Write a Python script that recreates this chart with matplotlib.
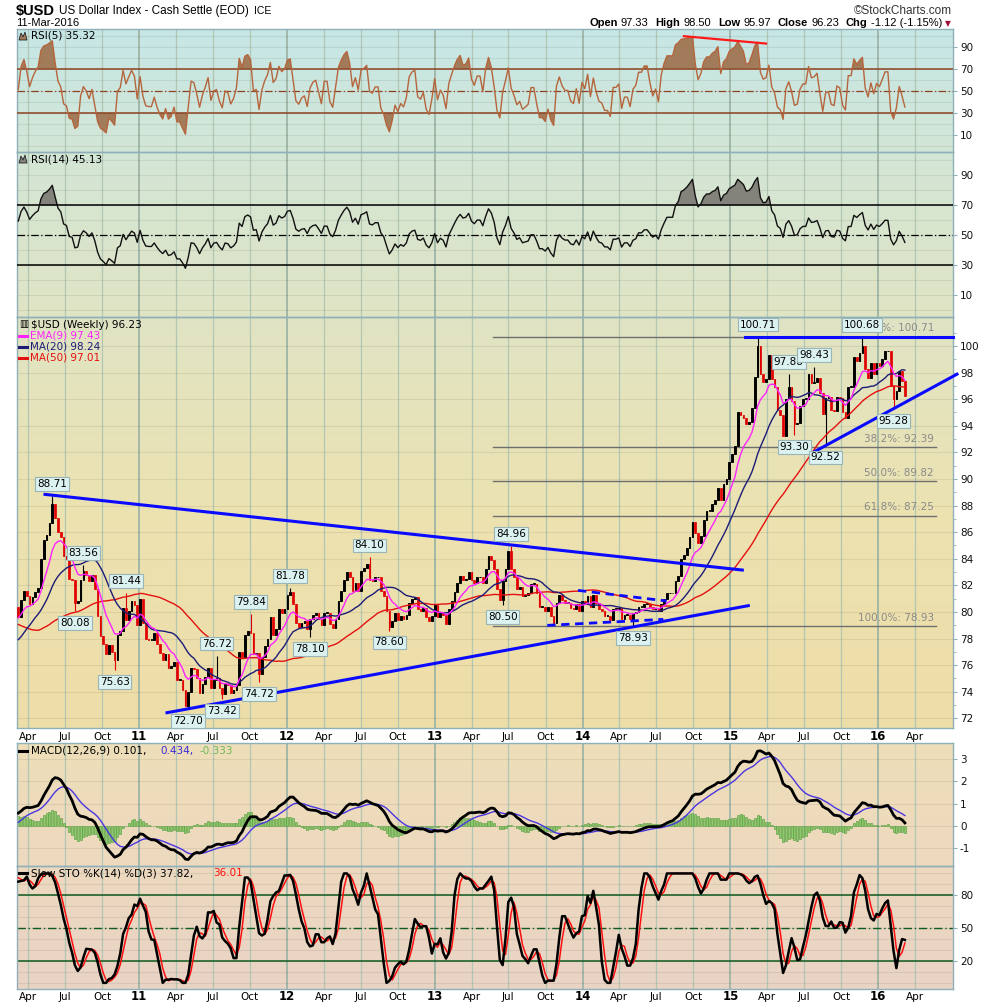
import numpy as np
import pandas as pd
import matplotlib
matplotlib.use("Agg")
import matplotlib.pyplot as plt
import matplotlib.dates as mdates
from matplotlib.patches import Polygon

plt.rcParams['font.family'] = ['DejaVu Sans']
plt.rcParams['axes.unicode_minus'] = False

# weekly closes (week ending Friday); the 2009 block is only warm-up for the averages
warmup_start = "2009-03-20"
warmup_closes = [83.7, 85.0, 85.6, 86.0, 85.4, 84.4, 84.3, 82.5, 82.6, 80.0,
                 79.3, 80.5, 80.2, 80.0, 80.0, 80.4, 80.4, 79.3, 78.9, 78.4,
                 78.8, 78.6, 78.2, 78.3, 77.8, 76.8, 76.4, 77.1, 77.0, 76.3,
                 75.6, 75.4, 76.4, 75.8, 75.2, 75.4, 75.1, 75.7, 76.8, 77.9,
                 77.9, 77.9, 77.0, 77.5, 78.6, 79.5, 80.5, 80.3, 80.4, 80.4,
                 80.4]
closes_2010 = [79.6, 80.9, 81.6, 81.2, 80.6, 81.1, 81.5, 81.8, 84.0, 85.4,
               85.8, 86.7, 88.1, 87.1, 86.0, 85.6, 84.2, 84.0, 82.5, 82.4,
               80.7, 80.8, 82.4, 83.1, 82.8, 82.3, 82.8, 81.7, 79.7, 78.2,
               77.6, 76.8, 77.5, 77.0, 76.4, 78.3, 78.6, 80.3, 79.4, 80.1,
               80.8, 80.5, 79.0]
closes_2011 = [81.0, 79.2, 78.0, 77.9, 77.9, 78.4, 77.6, 76.9, 76.4, 76.8,
               75.8, 75.9, 76.2, 74.9, 74.9, 74.1, 72.9, 74.0, 75.8, 75.7,
               75.0, 73.9, 74.6, 75.1, 75.8, 74.3, 74.9, 75.0, 74.3, 73.8,
               74.6, 74.5, 73.9, 74.1, 74.5, 77.0, 76.6, 78.3, 78.6, 78.4,
               76.8, 76.9, 75.3, 76.6, 77.4, 78.0, 79.6, 78.3, 78.7, 80.2,
               79.9, 80.2]
closes_2012 = [81.3, 81.5, 80.6, 79.2, 78.9, 79.2, 79.3, 78.7, 79.5, 79.8,
               79.9, 79.5, 79.0, 79.9, 79.9, 79.1, 78.8, 79.5, 80.8, 81.6,
               82.4, 83.0, 82.6, 81.6, 82.2, 81.6, 83.1, 83.3, 83.6, 82.4,
               82.3, 82.6, 82.6, 81.6, 81.2, 80.1, 78.9, 79.3, 79.9, 79.4,
               79.7, 79.5, 79.8, 80.7, 81.0, 81.1, 80.2, 80.1, 80.3, 79.6,
               79.3, 79.7]
closes_2013 = [80.5, 79.6, 80.0, 79.8, 79.1, 80.2, 80.8, 81.5, 82.2, 82.7,
               82.4, 82.5, 83.0, 82.4, 82.2, 82.6, 82.6, 82.2, 83.2, 84.2,
               83.9, 83.2, 81.7, 80.9, 82.3, 83.2, 84.6, 83.2, 82.6, 81.7,
               81.9, 81.2, 81.3, 81.4, 82.1, 82.1, 81.4, 80.4, 80.4, 80.1,
               80.4, 79.7, 79.2, 80.7, 81.3, 80.9, 80.7, 80.7, 80.3, 80.2,
               80.6, 80.1]
closes_2014 = [80.8, 80.6, 81.2, 80.4, 81.3, 80.7, 80.2, 80.1, 79.7, 79.7,
               79.4, 80.2, 80.2, 80.3, 79.5, 79.8, 79.8, 79.5, 79.9, 80.0,
               80.4, 80.4, 80.6, 80.6, 80.4, 80.2, 80.3, 80.1, 80.6, 81.0,
               81.4, 81.4, 81.4, 82.3, 82.7, 84.0, 84.3, 84.8, 85.6, 86.8,
               85.9, 85.2, 85.7, 86.9, 87.6, 87.6, 88.1, 88.4, 89.3, 88.4,
               89.6, 90.0]
closes_2015 = [91.3, 91.9, 92.5, 95.0, 94.8, 94.6, 94.1, 94.3, 95.3, 97.7,
               100.0, 97.9, 97.3, 97.5, 99.3, 97.5, 96.9, 95.2, 94.8, 93.2,
               96.0, 96.9, 95.9, 94.1, 94.2, 95.5, 96.0, 96.0, 97.9, 97.2,
               97.3, 97.6, 96.5, 94.9, 96.1, 96.2, 95.2, 95.1, 96.2, 96.1,
               95.0, 94.6, 96.9, 96.9, 99.2, 98.9, 99.5, 100.0, 98.3, 97.6,
               98.7, 97.9]
closes_2016 = [98.7, 98.5, 99.0, 99.6, 99.6, 97.0, 96.0, 96.6, 98.1, 97.33, 96.23]

# labelled swing highs / lows
pivot_dates = ["2010-06-04", "2010-07-30", "2010-08-20", "2010-11-05", "2010-12-03",
               "2011-05-06", "2011-07-15", "2011-07-29", "2011-10-07", "2011-10-28",
               "2012-01-13", "2012-03-02", "2012-07-27", "2012-09-14",
               "2013-06-21", "2013-07-12", "2014-05-09",
               "2015-03-13", "2015-05-29", "2015-06-12", "2015-07-31", "2015-08-28",
               "2015-11-27", "2016-02-12"]
pivot_values = [88.71, 80.08, 83.56, 75.63, 81.44, 72.70, 76.72, 73.42, 79.84, 74.72,
                81.78, 78.10, 84.10, 78.60, 80.50, 84.96, 78.93,
                100.71, 97.88, 93.30, 98.43, 92.52, 100.68, 95.28]
pivot_kinds = ["H", "L", "H", "L", "H", "L", "H", "L", "H", "L",
               "H", "L", "H", "L", "L", "H", "L",
               "H", "H", "L", "H", "L", "H", "L"]

fib_levels = [100.71, 92.39, 89.82, 87.25, 78.93]
fib_names = ["0.0%", "38.2%", "50.0%", "61.8%", "100.0%"]


def weekly(start, values):
    return pd.Series(values, index=pd.date_range(start, periods=len(values), freq="W-FRI"))


close = pd.concat([weekly(warmup_start, warmup_closes), weekly("2010-03-12", closes_2010),
                   weekly("2011-01-07", closes_2011), weekly("2012-01-06", closes_2012),
                   weekly("2013-01-04", closes_2013), weekly("2014-01-03", closes_2014),
                   weekly("2015-01-02", closes_2015), weekly("2016-01-01", closes_2016)])
openp = close.shift(1).fillna(close.iloc[0])
high = pd.concat([openp, close], axis=1).max(axis=1)
low = pd.concat([openp, close], axis=1).min(axis=1)
for d, v, k in zip(pivot_dates, pivot_values, pivot_kinds):
    t = pd.Timestamp(d)
    if k == "H":
        high[t] = max(high[t], v)
    else:
        low[t] = min(low[t], v)

# indicators
ema9 = close.ewm(span=9, adjust=False).mean()
ma20 = close.rolling(20).mean()
ma50 = close.rolling(50).mean()


def rsi(c, n):
    d = c.diff()
    up = d.clip(lower=0).ewm(alpha=1 / n, adjust=False).mean()
    dn = (-d.clip(upper=0)).ewm(alpha=1 / n, adjust=False).mean()
    return 100 - 100 / (1 + up / dn)


rsi5 = rsi(close, 5)
rsi14 = rsi(close, 14)
macd = close.ewm(span=12, adjust=False).mean() - close.ewm(span=26, adjust=False).mean()
signal = macd.ewm(span=9, adjust=False).mean()
hist = macd - signal
ll = low.rolling(14).min()
hh = high.rolling(14).max()
fast_k = 100 * (close - ll) / (hh - ll)
slow_k = fast_k.rolling(3).mean()
slow_d = slow_k.rolling(3).mean()

m = close.index >= pd.Timestamp("2010-03-12")
xs = mdates.date2num(close.index[m] - pd.Timedelta(days=4))  # bars drawn at week start


def xd(s):
    return mdates.date2num(pd.Timestamp(s) - pd.Timedelta(days=4))


# ---- figure / layout in pixels ----
W, H = 990, 1007
fig = plt.figure(figsize=(W / 100, H / 100), dpi=100)
X0, X1 = 17, 953

d0 = mdates.date2num(pd.Timestamp("2010-04-01"))
d1 = mdates.date2num(pd.Timestamp("2016-04-01"))
dpp = (d1 - d0) / (915 - 28)


def px2d(px):
    return d0 + (px - 28) * dpp


def d2px(d):
    return 28 + (d - d0) / dpp


xlim = (px2d(X0), px2d(X1))
qticks = pd.date_range("2010-04-01", "2016-04-01", freq="QS-JAN")

# background gradient
bg = fig.add_axes([X0 / W, 1 - 989 / H, (X1 - X0) / W, (989 - 29) / H], zorder=-10)
stops_y = [29, 152, 317, 520, 728, 743, 866, 989]
stops_c = [(198, 230, 230), (211, 230, 214), (224, 228, 196), (236, 226, 176),
           (238, 221, 168), (238, 222, 184), (237, 217, 191), (233, 211, 197)]
rows = np.arange(29, 989)
img = np.stack([np.interp(rows, stops_y, [c[i] for c in stops_c]) for i in range(3)], axis=-1) / 255
img[(rows >= 729) & (rows < 743)] = 1.0
bg.imshow(img[:, None, :], aspect="auto", extent=[0, 1, 0, 1], interpolation="nearest")
bg.axis("off")


def panel(top, bottom, ylim, yticks, grid_y):
    ax = fig.add_axes([X0 / W, 1 - bottom / H, (X1 - X0) / W, (bottom - top) / H])
    ax.set_facecolor("none")
    ax.set_xlim(xlim)
    ax.set_ylim(ylim)
    for t in qticks:
        yr = t.month == 1
        ax.axvline(mdates.date2num(t), color="#9fb5a6" if yr else "#b2c6b4",
                   lw=1.3 if yr else 0.9, zorder=0)
    for v in grid_y:
        ax.axhline(v, color="black", alpha=0.07, lw=0.8, zorder=0)
    ax.set_xticks([])
    ax.yaxis.tick_right()
    ax.set_yticks(yticks)
    ax.tick_params(axis="y", length=3, pad=2, labelsize=7.5, color="#8fb0b8", labelcolor="#111")
    for s in ax.spines.values():
        s.set_color("#8fb0b8")
        s.set_linewidth(1.0)
    return ax


# ---- RSI(5) ----
ax1 = panel(29, 152, (-5.5, 106), [90, 70, 50, 30, 10], np.arange(0, 101, 10))
r5 = rsi5[m].values
ax1.fill_between(xs, r5, 70, where=r5 > 70, interpolate=True, color="#a27b5b", lw=0, zorder=2)
ax1.fill_between(xs, r5, 30, where=r5 < 30, interpolate=True, color="#a27b5b", lw=0, zorder=2)
for v in (70, 30):
    ax1.axhline(v, color="#8e4220", lw=1.1, zorder=3)
ax1.axhline(50, color="#8e4220", lw=0.9, ls=(0, (6, 2, 1, 2)), zorder=3)
ax1.plot(xs, r5, color="#b5653c", lw=1.0, zorder=4)
ax1.plot([xd("2014-09-12"), xd("2015-04-03")], [99.5, 92.8], color="#ff1a1a", lw=1.6, zorder=5)

# ---- RSI(14) ----
ax2 = panel(152, 317, (-4.5, 105.5), [90, 70, 50, 30, 10], np.arange(0, 101, 10))
r14 = rsi14[m].values
ax2.fill_between(xs, r14, 70, where=r14 > 70, interpolate=True, color="#83837c", lw=0, zorder=2)
ax2.fill_between(xs, r14, 30, where=r14 < 30, interpolate=True, color="#83837c", lw=0, zorder=2)
for v in (70, 30):
    ax2.axhline(v, color="black", lw=1.1, zorder=3)
ax2.axhline(50, color="black", lw=0.9, ls=(0, (6, 2, 1, 2)), zorder=3)
ax2.plot(xs, r14, color="#111111", lw=1.0, zorder=4)

# ---- price ----
ax3 = panel(317, 728, (71.27, 102.18), np.arange(72, 101, 2), np.arange(72, 101, 2))
ax3.set_yticks(np.arange(72, 102, 1), minor=True)
ax3.tick_params(axis="y", which="minor", length=2, color="#8fb0b8")

for lv, nm in zip(fib_levels, fib_names):
    ax3.plot([px2d(493), px2d(935.7)], [lv, lv], color="#6f6f6f", lw=1.0, zorder=2)
    ax3.text(px2d(934), lv + 0.25, f"{nm}: {lv:.2f}", ha="right", va="bottom",
             fontsize=7.5, color="#8a8a8a", zorder=2)

o = openp[m].values
c = close[m].values
hi = high[m].values
lo = low[m].values
upm = c >= o
ax3.vlines(xs[upm], lo[upm], hi[upm], color="black", lw=0.8, zorder=4)
ax3.vlines(xs[~upm], lo[~upm], hi[~upm], color="#e00000", lw=0.8, zorder=4)
ax3.bar(xs[upm], np.maximum(c[upm] - o[upm], 0.06), bottom=o[upm], width=4.2,
        facecolor="none", edgecolor="black", lw=0.7, zorder=5)
ax3.bar(xs[~upm], np.maximum(o[~upm] - c[~upm], 0.06), bottom=c[~upm], width=4.2,
        facecolor="#e00000", edgecolor="#e00000", lw=0.5, zorder=5)

ax3.plot(xs, ma50[m].values, color="#e41010", lw=1.0, zorder=6)
ax3.plot(xs, ma20[m].values, color="#1c1c78", lw=1.0, zorder=6)
ax3.plot(xs, ema9[m].values, color="#ff22ff", lw=1.0, zorder=6)

blue = "#0a0aff"
ax3.plot([px2d(45), px2d(742.3)], [88.84, 83.15], color=blue, lw=2.2, zorder=7)
ax3.plot([px2d(167), px2d(748.3)], [72.42, 80.47], color=blue, lw=2.2, zorder=7)
ax3.plot([px2d(578), px2d(666.7)], [81.62, 80.82], color=blue, lw=2.0, ls=(0, (3, 2)), zorder=7)
ax3.plot([px2d(547.3), px2d(663.3)], [78.99, 79.44], color=blue, lw=2.0, ls=(0, (3, 2)), zorder=7)
ax3.plot([px2d(745), px2d(X1)], [100.71, 100.71], color=blue, lw=2.2, zorder=7, clip_on=False)
ax3.plot([px2d(810), px2d(957)], [91.87, 97.88], color=blue, lw=2.2, zorder=7, clip_on=False)

for d, v, k in zip(pivot_dates, pivot_values, pivot_kinds):
    off = 5 if k == "H" else -5
    ax3.annotate(f"{v:.2f}", (xd(d), v), xytext=(0, off), textcoords="offset points",
                 ha="center", va="bottom" if k == "H" else "top", fontsize=7.5, color="black",
                 bbox=dict(boxstyle="square,pad=0.18", fc="#dcf2f0", ec="#9ab5b8", lw=0.8), zorder=8)

# ---- MACD ----
ax4 = panel(743, 866, (-1.83, 3.74), [3, 2, 1, 0, -1], np.arange(-1, 4, 1))
ax4.bar(xs, hist[m].values, width=5, facecolor="#8dc86a", edgecolor="#4f9a3b", lw=0.4, zorder=2)
ax4.plot(xs, signal[m].values, color="#4a36e0", lw=1.0, zorder=3)
ax4.plot(xs, macd[m].values, color="black", lw=2.0, zorder=4)

# ---- Slow stochastic ----
ax5 = panel(866, 989, (-5.6, 106.8), [80, 50, 20], np.arange(0, 101, 10))
for v in (80, 20):
    ax5.axhline(v, color="#0d5a1e", lw=1.1, zorder=2)
ax5.axhline(50, color="#0d5a1e", lw=1.0, ls=(0, (6, 2, 1, 2)), zorder=2)
ax5.plot(xs, slow_d[m].values, color="#ff1010", lw=1.1, zorder=3)
ax5.plot(xs, slow_k[m].values, color="black", lw=1.8, zorder=4)

# ---- date labels ----
for row_y in (737, 997):
    for t in qticks:
        px = d2px(mdates.date2num(t))
        if t.month == 1:
            fig.text(px / W, 1 - row_y / H, t.strftime("%y"), ha="center", va="center",
                     fontsize=8.5, fontweight="bold")
        else:
            fig.text(px / W, 1 - row_y / H, t.strftime("%b"), ha="center", va="center", fontsize=7.5)


def ftext(px, py, s, **kw):
    kw.setdefault("va", "center")
    kw.setdefault("fontsize", 7.5)
    return fig.text(px / W, 1 - py / H, s, **kw)


def icon(px, py, color):
    pts = [(px, py + 4), (px + 2, py - 3), (px + 4, py + 1), (px + 6, py - 4), (px + 8, py + 4)]
    fig.patches.append(Polygon([(a / W, 1 - b / H) for a, b in pts], closed=True,
                               transform=fig.transFigure, fc=color, ec="#222", lw=0.6))


def dash(px, py, color):
    fig.lines.append(plt.Line2D([px / W, (px + 8) / W], [1 - py / H, 1 - py / H],
                                transform=fig.transFigure, color=color, lw=2.2))


# header (Arial-like face), laid out piece by piece
hf = ["Liberation Sans", "DejaVu Sans"]
renderer = fig.canvas.get_renderer()


def width(t):
    return t.get_window_extent(renderer=renderer).width


xpos = 16
for s, size, bold, gap in [("$USD", 10.5, True, 4), ("US Dollar Index - Cash Settle (EOD)", 8.5, False, 5),
                           ("ICE", 7.5, False, 0)]:
    t = ftext(xpos, 11, s, fontsize=size, fontweight="bold" if bold else "normal", family=hf)
    xpos += width(t) + gap
ftext(16, 23.5, "11-Mar-2016", fontsize=8, family=hf)
ftext(952, 10.5, "\u00a9StockCharts.com", ha="right", fontsize=8.5, color="#333", family=hf)

hdr = [("Open", True, 3), ("97.33", False, 7), ("High", True, 3), ("98.50", False, 7),
       ("Low", True, 3), ("95.97", False, 7), ("Close", True, 3), ("96.23", False, 7),
       ("Chg", True, 3), ("-1.12 (-1.15%)", False, 0)]
pieces = []
total = 0
for s, b, gap in hdr:
    t = ftext(0, 23.5, s, fontsize=8, fontweight="bold" if b else "normal", family=hf)
    pieces.append((t, gap))
    total += width(t) + gap
xpos = 942 - total
for t, gap in pieces:
    t.set_x(xpos / W)
    xpos += width(t) + gap
ftext(948, 24, "\u25bc", fontsize=5.5, color="#a0103a", ha="center")

# panel legends
icon(19, 36, "#a27b5b")
ftext(31, 36, "RSI(5) 35.32")
icon(19, 159, "#83837c")
ftext(31, 159, "RSI(14) 45.13")
ftext(19, 324.5, "\u25a5", fontsize=7)
ftext(31, 324.5, "$USD (Weekly) 96.23")
dash(19, 335.7, "#ff22ff")
ftext(29.5, 335.7, "EMA(9) 97.43", color="#ff22ff")
dash(19, 346.7, "#1c1c78")
ftext(29.5, 346.7, "MA(20) 98.24", color="#1c1c78")
dash(19, 357.7, "#e41010")
ftext(29.5, 357.7, "MA(50) 97.01", color="#e41010")
dash(19, 750.7, "black")
ftext(31.5, 750.7, "MACD(12,26,9) 0.101,")
ftext(160, 750.7, "0.434,", color="#3a2ad8")
ftext(200, 750.7, "-0.333", color="#6fb85a")
dash(19, 873.3, "black")
ftext(31.5, 873.3, "Slow STO %K(14) %D(3) 37.82,")
ftext(213, 873.3, "36.01", color="#ff1010")

fig.savefig("out.png", dpi=100, facecolor="white")
